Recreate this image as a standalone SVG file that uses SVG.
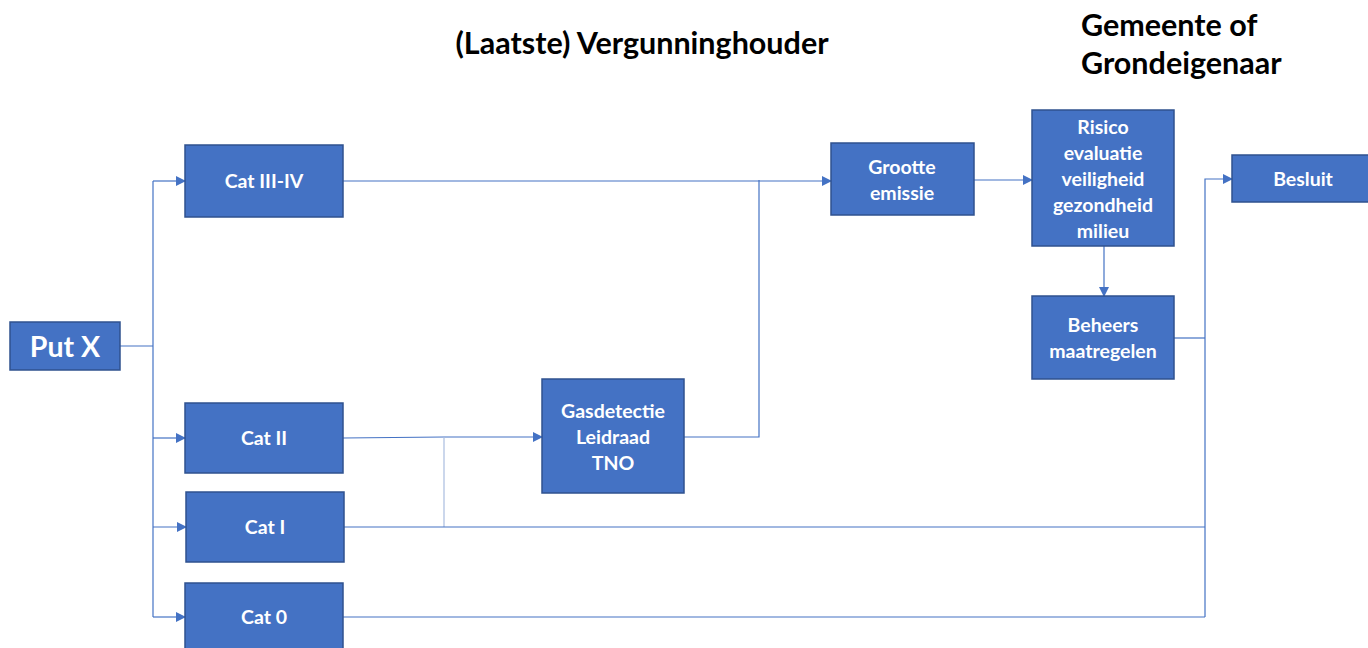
<svg xmlns="http://www.w3.org/2000/svg" width="1368" height="648" viewBox="0 0 1368 648">
<style>
.box{fill:#4472C4;stroke:#2F528F;stroke-width:1.5}
.t{font-family:Lato,"Liberation Sans",sans-serif;font-weight:bold;fill:#fff;font-size:19.5px;text-anchor:middle}
.h{font-family:Lato,"Liberation Sans",sans-serif;font-weight:bold;fill:#000;font-size:30.5px}
.c{fill:none;stroke:#4472C4;stroke-width:1.2}
.cl{fill:none;stroke:#A9BCE0;stroke-width:1.2}
</style>
<defs>
<marker id="ah" markerWidth="10" markerHeight="10" refX="9" refY="5" orient="auto" markerUnits="userSpaceOnUse">
<path d="M0,0 L10,5 L0,10 Z" fill="#4472C4"/>
</marker>
</defs>
<rect width="1368" height="648" fill="#fff"/>
<text class="h" x="642" y="54" text-anchor="middle">(Laatste) Vergunninghouder</text>
<text class="h" x="1081" y="36">Gemeente of</text>
<text class="h" x="1081" y="74">Grondeigenaar</text>
<g id="connectors">
<path class="c" d="M120,346 H153"/>
<path class="c" d="M153,181 V617"/>
<path class="c" d="M153,181 H185" marker-end="url(#ah)"/>
<path class="c" d="M153,438 H185" marker-end="url(#ah)"/>
<path class="c" d="M153,527 H186" marker-end="url(#ah)"/>
<path class="c" d="M153,617 H185" marker-end="url(#ah)"/>
<path class="c" d="M343,181 H831" marker-end="url(#ah)"/>
<path class="c" d="M343,438 L444,437 H542" marker-end="url(#ah)"/>
<path class="cl" d="M444,437 V527"/>
<path class="c" d="M344,527 H1205"/>
<path class="c" d="M343,617 H1205"/>
<path class="c" d="M684,437 H759 V180"/>
<path class="c" d="M974,180 H1032" marker-end="url(#ah)"/>
<path class="c" d="M1104,246 V296" marker-end="url(#ah)"/>
<path class="c" d="M1174,338 H1205"/>
<path class="c" d="M1205,617 V179 H1232" marker-end="url(#ah)"/>
</g>
<g id="putx"><rect class="box" x="10" y="322" width="110" height="48"/><text class="t" x="65" y="357" style="font-size:28.5px">Put X</text></g>
<g id="cat34"><rect class="box" x="185" y="145" width="158" height="72"/><text class="t" x="264" y="188">Cat III-IV</text></g>
<g id="cat2"><rect class="box" x="185" y="403" width="158" height="70"/><text class="t" x="264" y="445">Cat II</text></g>
<g id="cat1"><rect class="box" x="186" y="492" width="158" height="70"/><text class="t" x="265" y="534">Cat I</text></g>
<g id="cat0"><rect class="box" x="185" y="583" width="158" height="70"/><text class="t" x="264" y="624">Cat 0</text></g>
<g id="gas"><rect class="box" x="542" y="379" width="142" height="114"/><text class="t" x="613" y="418">Gasdetectie</text><text class="t" x="613" y="444">Leidraad</text><text class="t" x="613" y="470">TNO</text></g>
<g id="grootte"><rect class="box" x="831" y="143" width="143" height="72"/><text class="t" x="902" y="174">Grootte</text><text class="t" x="902" y="200">emissie</text></g>
<g id="risico"><rect class="box" x="1032" y="110" width="142" height="136"/><text class="t" x="1103" y="134">Risico</text><text class="t" x="1103" y="160">evaluatie</text><text class="t" x="1103" y="186">veiligheid</text><text class="t" x="1103" y="212">gezondheid</text><text class="t" x="1103" y="238">milieu</text></g>
<g id="beheers"><rect class="box" x="1032" y="296" width="142" height="83"/><text class="t" x="1103" y="332">Beheers</text><text class="t" x="1103" y="358">maatregelen</text></g>
<g id="besluit"><rect class="box" x="1232" y="155" width="140" height="47"/><text class="t" x="1303" y="186">Besluit</text></g>
</svg>
